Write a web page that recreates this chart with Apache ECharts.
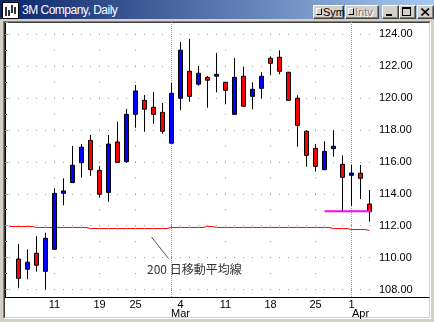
<!DOCTYPE html>
<html><head><meta charset="utf-8">
<script src="https://cdn.jsdelivr.net/npm/echarts@6/dist/echarts.min.js"></script>
<style>
html,body{margin:0;padding:0;background:#d4d0c8;}
#win{position:relative;width:434px;height:322px;overflow:hidden;background:#d4d0c8;font-family:'Liberation Sans',Arial,sans-serif;}
#titlebar{position:absolute;left:0;top:0;width:434px;height:19px;background:linear-gradient(to right,#0a246a 0%,#a6caf0 100%);}
#icon{position:absolute;left:2px;top:2px;}
#ttext{position:absolute;left:22px;top:3px;font-size:12px;line-height:14px;color:#fff;letter-spacing:-0.5px;white-space:nowrap;}
.btn{position:absolute;top:5px;height:14px;box-sizing:border-box;background:#d4d0c8;border-top:1px solid #fff;border-left:1px solid #fff;border-right:1px solid #404040;border-bottom:1px solid #404040;box-shadow:inset -1px -1px 0 #808080;}
.chk{position:absolute;left:2px;top:2px;width:6px;height:7px;box-sizing:border-box;border-top:1px solid #fff;border-left:1px solid #fff;border-right:1px solid #000;border-bottom:1px solid #000;background:#d4d0c8;}
.btxt{position:absolute;left:9px;top:0px;font-size:11px;line-height:12px;white-space:nowrap;}
#plotOuter{position:absolute;left:3px;top:21px;width:428px;height:298px;box-sizing:border-box;border-top:1px solid #808080;border-left:1px solid #808080;border-right:1px solid #fff;border-bottom:1px solid #fff;}
#plotInner{width:100%;height:100%;box-sizing:border-box;border-top:1px solid #404040;border-left:1px solid #404040;border-right:1px solid #d4d0c8;border-bottom:1px solid #d4d0c8;background:#fff;}
#chart{position:absolute;left:0;top:0;width:434px;height:322px;}
</style></head>
<body>
<div id="win">
  <div id="titlebar"></div>
  <svg id="icon" width="17" height="17"><rect x="0.5" y="0.5" width="16" height="16" fill="#fff" stroke="#000"/><path d="M4 5v9M7 8v6M10 3v8M13 5v7" stroke="#000" stroke-width="1.6"/></svg>
  <div id="ttext">3M Company, Daily</div>
  <div class="btn" style="left:313px;width:31px;"><div class="chk"></div><div class="btxt" style="color:#000;">Sym</div></div>
  <div class="btn" style="left:345px;width:34px;"><div class="chk"></div><div class="btxt" style="color:#808080;text-shadow:1px 1px 0 #fff;">Intv</div></div>
  <div class="btn" style="left:382px;width:17px;"><div style="position:absolute;left:3px;top:8px;width:6px;height:2px;background:#000;"></div></div>
  <div class="btn" style="left:399px;width:17px;"><div style="position:absolute;left:2px;top:1px;width:9px;height:9px;box-sizing:border-box;border:1px solid #000;border-top-width:2px;"></div></div>
  <div class="btn" style="left:417px;width:17px;"><svg style="position:absolute;left:3px;top:2px;" width="9" height="8"><path d="M0.5 0.5L8 7.5M8 0.5L0.5 7.5" stroke="#000" stroke-width="1.6"/></svg></div>
  <div id="plotOuter"><div id="plotInner"></div></div>
  <div id="chart"></div>
</div>
<script>
// ---- data ----
const days = ['Feb 4','Feb 5','Feb 6','Feb 7','Feb 8','Feb 11','Feb 12','Feb 13','Feb 14','Feb 15',
  'Feb 19','Feb 20','Feb 21','Feb 22','Feb 25','Feb 26','Feb 27','Feb 28','Mar 1','Mar 4',
  'Mar 5','Mar 6','Mar 7','Mar 8','Mar 11','Mar 12','Mar 13','Mar 14','Mar 15','Mar 18',
  'Mar 19','Mar 20','Mar 21','Mar 22','Mar 25','Mar 26','Mar 27','Mar 28','Apr 1','Apr 2','Apr 3'];
const opens = [null,109.91,109.27,110.27,109.14,110.52,114.03,114.70,115.95,117.35,
  115.47,114.09,117.25,116.01,118.98,119.86,119.42,119.11,117.17,119.99,
  121.68,120.87,121.30,121.37,120.99,118.98,121.37,120.11,120.61,122.50,
  122.56,121.62,119.99,117.92,116.85,115.51,116.83,115.85,115.16,115.29,113.36];
const closes = [null,108.70,109.71,109.52,111.21,114.03,114.18,115.79,116.92,115.51,
  113.97,117.12,115.97,118.98,120.45,119.30,118.98,117.92,120.30,123.00,
  120.11,121.56,121.12,121.49,120.49,121.30,119.49,120.55,121.37,122.18,
  121.68,119.86,118.29,116.41,115.72,116.66,116.98,115.03,115.30,114.97,112.88];
const lows = [null,108.11,108.64,109.12,107.99,110.49,113.28,114.68,115.01,115.13,
  113.76,113.50,115.97,115.95,118.14,117.89,118.39,117.77,117.17,119.24,
  119.77,120.78,119.40,120.36,119.61,118.98,119.49,119.30,119.99,121.43,
  121.49,119.86,116.95,115.70,115.39,115.51,116.33,112.88,113.25,113.67,112.25];
const highs = [null,110.85,110.52,111.34,111.56,114.34,114.97,117.00,117.12,117.69,
  115.74,117.69,118.52,119.32,120.82,120.19,120.38,119.69,120.95,123.52,
  123.71,122.01,121.39,122.83,120.99,122.51,121.95,120.99,121.62,122.62,
  123.00,121.62,120.18,117.98,117.12,117.29,117.98,116.41,115.81,115.81,114.24];
const ma200 = [111.95,111.95,111.95,111.89,111.89,111.89,111.89,111.89,111.89,111.82,
  111.82,111.82,111.82,111.82,111.82,111.82,111.82,111.82,111.89,111.89,
  111.89,111.89,111.95,111.89,111.89,111.89,111.89,111.89,111.89,111.89,
  111.89,111.89,111.89,111.89,111.89,111.89,111.82,111.82,111.76,111.76,111.70];
const dayTickLabels = {'Feb 11':'11','Feb 19':'19','Feb 25':'25','Mar 4':'4','Mar 11':'11','Mar 18':'18','Mar 25':'25','Apr 1':'1'};
const monthTickLabels = {'Mar 4':'Mar','Apr 2':'Apr'};
const weekGridDays = ['Feb 11','Feb 19','Feb 25','Mar 11','Mar 18','Mar 25'];
const monthGridDays = ['Mar 1','Apr 1'];
const supportLevel = 112.9;
const supportStart = 'Mar 26';
const supportEndX = 40.72;   // support line runs on to the price axis
const priceMin = 108, priceMax = 124.77, plotBottomPrice = 107.53;
const annotationText = '200 日移動平均線';

// ---- chart ----
const candleData = days.map((d, i) => opens[i] == null ? ['-','-','-','-'] : [opens[i], closes[i], lows[i], highs[i]]);
const FONT = 'Liberation Sans';
const GRID_COLOR = '#999';
const chart = echarts.init(document.getElementById('chart'), null, {renderer: 'canvas'});
chart.setOption({
  animation: false,
  grid: [
    {left: 5, right: 58, top: 22, bottom: 32.5},
    {left: 9.5, right: 64.5, top: 22, bottom: 25},
    {left: 5, right: 5, top: 22, bottom: 25},
    {left: 5, right: 58, top: 22, bottom: 25}
  ],
  xAxis: [
    {gridIndex: 0, type: 'value', show: false},
    {gridIndex: 1, type: 'category', data: days, boundaryGap: false,
      axisLine: {show: false}, axisTick: {show: false},
      axisLabel: {interval: (i, v) => v in dayTickLabels, formatter: v => dayTickLabels[v] || '',
        margin: 2, fontSize: 11, color: '#000', fontFamily: FONT},
      splitLine: {show: true, interval: (i, v) => weekGridDays.indexOf(v) >= 0,
        lineStyle: {color: GRID_COLOR, width: 1, type: [1, 14.95], dashOffset: 4.15}}},
    {gridIndex: 1, type: 'category', data: days, boundaryGap: false, position: 'bottom', offset: 9,
      axisLine: {show: false}, axisTick: {show: false},
      axisLabel: {interval: (i, v) => v in monthTickLabels, formatter: v => monthTickLabels[v] || '',
        margin: 2, fontSize: 11, color: '#000', fontFamily: FONT},
      splitLine: {show: true, interval: (i, v) => monthGridDays.indexOf(v) >= 0,
        lineStyle: {color: GRID_COLOR, width: 1, type: [1, 1]}}},
    {gridIndex: 1, type: 'value', min: 0, max: days.length - 1, show: false},
    {gridIndex: 2, type: 'value', axisLine: {show: true, lineStyle: {color: '#000', width: 1}},
      axisTick: {show: false}, axisLabel: {show: false}, splitLine: {show: false}},
    {gridIndex: 3, type: 'value', show: false}
  ],
  yAxis: [
    {gridIndex: 0, type: 'value', position: 'right', min: priceMin, max: priceMax, interval: 1,
      axisLine: {show: false},
      axisTick: {show: true, length: 2, lineStyle: {color: '#000'}},
      axisLabel: {formatter: v => (Math.abs(v - Math.round(v)) < 1e-6 && Math.round(v) % 2 === 0) ? v.toFixed(2) : '',
        margin: 3, fontSize: 11, color: '#000', fontFamily: FONT},
      splitLine: {show: false}},
    {gridIndex: 0, type: 'value', position: 'left', min: priceMin, max: priceMax, interval: 2,
      axisLine: {show: false}, axisLabel: {show: false},
      axisTick: {show: true, inside: true, length: 3, lineStyle: {color: GRID_COLOR}},
      splitLine: {show: true, showMaxLine: false, lineStyle: {color: GRID_COLOR, width: 1, type: [1, 8], dashOffset: 5}}},
    {gridIndex: 0, type: 'value', position: 'left', min: priceMin, max: priceMax, interval: 1,
      axisLine: {show: false}, axisLabel: {show: false},
      axisTick: {show: true, inside: true, length: 1, lineStyle: {color: GRID_COLOR}},
      splitLine: {show: false}},
    {gridIndex: 1, type: 'value', min: plotBottomPrice, max: priceMax, show: false},
    {gridIndex: 2, type: 'value', show: false},
    {gridIndex: 3, type: 'value', position: 'right', axisLine: {show: true, lineStyle: {color: '#000', width: 1}},
      axisTick: {show: false}, axisLabel: {show: false}, splitLine: {show: false}}
  ],
  series: [
    {type: 'line', name: '200MA', xAxisIndex: 1, yAxisIndex: 3, data: ma200, step: 'middle',
      symbol: 'none', lineStyle: {color: '#ff0000', width: 1}, z: 2, silent: true},
    {type: 'candlestick', xAxisIndex: 1, yAxisIndex: 3, data: candleData, barWidth: 4, clip: false,
      itemStyle: {color: '#0000ff', color0: '#ff0000', borderColor: '#000', borderColor0: '#000', borderWidth: 1},
      z: 3, silent: true},
    {type: 'line', name: 'support', xAxisIndex: 3, yAxisIndex: 3, clip: false,
      data: [[days.indexOf(supportStart), supportLevel], [supportEndX, supportLevel]],
      symbol: 'none', lineStyle: {color: '#ff00ff', width: 2}, z: 4, silent: true}
  ],
  graphic: [
    {type: 'line', shape: {x1: 151.5, y1: 237, x2: 168.5, y2: 258.5}, style: {stroke: '#555', lineWidth: 1}, silent: true},
    {type: 'text', x: 147, y: 269.5, style: {text: annotationText, fill: '#333',
      font: '12px "Noto Sans CJK JP"', verticalAlign: 'middle', align: 'left'}, silent: true}
  ]
});
</script>
</body></html>
